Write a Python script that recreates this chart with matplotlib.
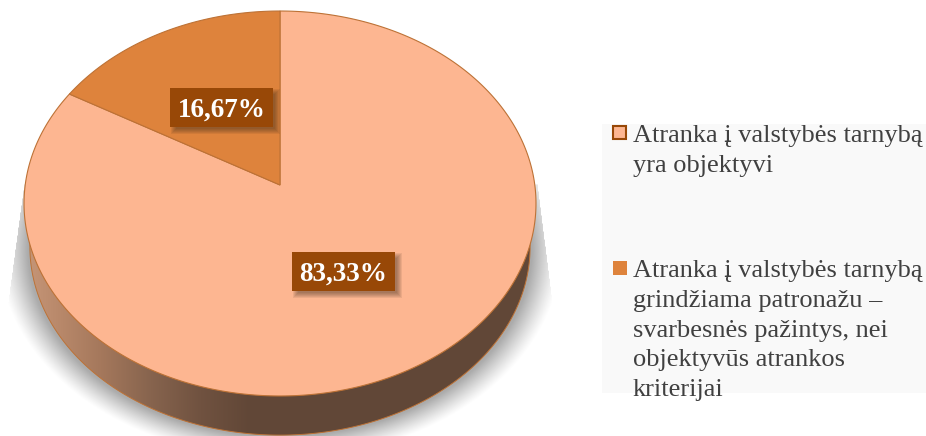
import numpy as np
import matplotlib
matplotlib.use('Agg')
import matplotlib.pyplot as plt
from matplotlib.patches import Polygon, Rectangle

plt.rcParams['font.family'] = ['Liberation Serif', 'DejaVu Serif']

values = [83.33, 16.67]
labels = ['Atranka į valstybės tarnybą\nyra objektyvi',
          'Atranka į valstybės tarnybą\ngrindžiama patronažu –\nsvarbesnės pažintys, nei\nobjektyvūs atrankos\nkriterijai']
colors = ['#fdb691', '#de833c']
edge = '#bd7236'
dark = '#984807'
W, H = 926, 436

fig = plt.figure(figsize=(W / 100, H / 100), dpi=100)
ax = fig.add_axes([0, 0, 1, 1])


# circle seen in perspective, far side squeezed
def rim(theta, scale=1.0, dy=0.0):
    u, v = np.sin(theta), np.cos(theta)
    w = 1 + 0.0961 * v
    return np.column_stack([280 + scale * 254.8 * u / w, 185 + dy - scale * 190.7 * v / w])


yy, xx = np.mgrid[0:H, 0:W] + 0.5

# soft shadow under the disc, cut straight at both sides
r = np.sqrt(((xx - 280) / 274) ** 2 + ((yy - 250) / 203) ** 2)
shadow = np.clip((1.03 - r) / 0.11, 0, 1) ** 1.2 * 0.33
shadow[(xx < 25 - (yy - 180) * 0.135) | (xx > 537 + (yy - 180) * 0.126)] = 0
shadow[yy < 185] = 0
rgba = np.zeros((H, W, 4))
rgba[..., 3] = shadow
ax.imshow(rgba, extent=[0, W, H, 0], zorder=1, interpolation='bilinear')

# side of the disc
t = np.linspace(0, 2 * np.pi, 721)
lower = rim(t, scale=0.977, dy=44)
side = Polygon(lower, closed=True, facecolor='none', edgecolor=edge, linewidth=0.7, zorder=3)
ax.add_patch(side)
stop_x = [25, 60, 100, 150, 200, 250, 926]
stop_rgb = np.array([[198, 150, 120], [184, 136, 106], [165, 120, 92],
                     [135, 100, 78], [112, 82, 64], [97, 71, 55], [97, 71, 55]])
grad = np.stack([np.interp(np.arange(W), stop_x, stop_rgb[:, i]) for i in range(3)], axis=1) / 255
im = ax.imshow(grad[None, :, :], extent=[0, W, H, 0], zorder=2, aspect='auto')
im.set_clip_path(Polygon(lower, closed=True, transform=ax.transData))

# top face, clockwise from twelve o'clock
angles = np.concatenate([[0], np.cumsum(values)]) / sum(values) * 2 * np.pi
centre = rim(np.array([0.0]), scale=0.0)
for i in range(len(values)):
    arc = rim(np.linspace(angles[i], angles[i + 1], 400))
    ax.add_patch(Polygon(np.vstack([centre, arc]), closed=True, facecolor=colors[i],
                         edgecolor=edge, linewidth=0.8, joinstyle='miter', zorder=4))

# value labels
box_x = [292, 170]
box_y = [252, 88]
box_w, box_h = 103, 39
for i in range(len(values)):
    for k in range(6):
        ax.add_patch(Rectangle((box_x[i] + 6 - k, box_y[i] + 6 - k), box_w + 2 * k - 4, box_h + 2 * k - 4,
                               facecolor='#3a2a1a', edgecolor='none', alpha=0.09, zorder=5))
    ax.add_patch(Rectangle((box_x[i], box_y[i]), box_w, box_h, facecolor=dark, edgecolor='none', zorder=6))
    ax.text(box_x[i] + box_w / 2, box_y[i] + 28.5, f'{values[i]:.2f}%'.replace('.', ','),
            color='white', fontsize=19.5, fontweight='bold', ha='center', va='baseline', zorder=7)

# legend
ax.add_patch(Rectangle((602, 124), W - 602, 269, facecolor='#f9f9f9', edgecolor='none', zorder=1))
first_line = [142, 277]
swatch_y = [126, 261]
for i in range(len(values)):
    if i == 0:
        ax.add_patch(Rectangle((613, swatch_y[i]), 13, 13, facecolor=colors[i], edgecolor=dark, linewidth=1.5, zorder=4))
    else:
        ax.add_patch(Rectangle((613, swatch_y[i]), 14, 14, facecolor=colors[i], edgecolor='none', zorder=4))
    for n, line in enumerate(labels[i].split('\n')):
        ax.text(633, first_line[i] + n * 29.8, line, color='#404040', fontsize=19, ha='left', va='baseline', zorder=5)

ax.set_xlim(0, W)
ax.set_ylim(H, 0)
ax.set_aspect('auto')
ax.axis('off')
fig.savefig('out.png', dpi=100, facecolor='white')
